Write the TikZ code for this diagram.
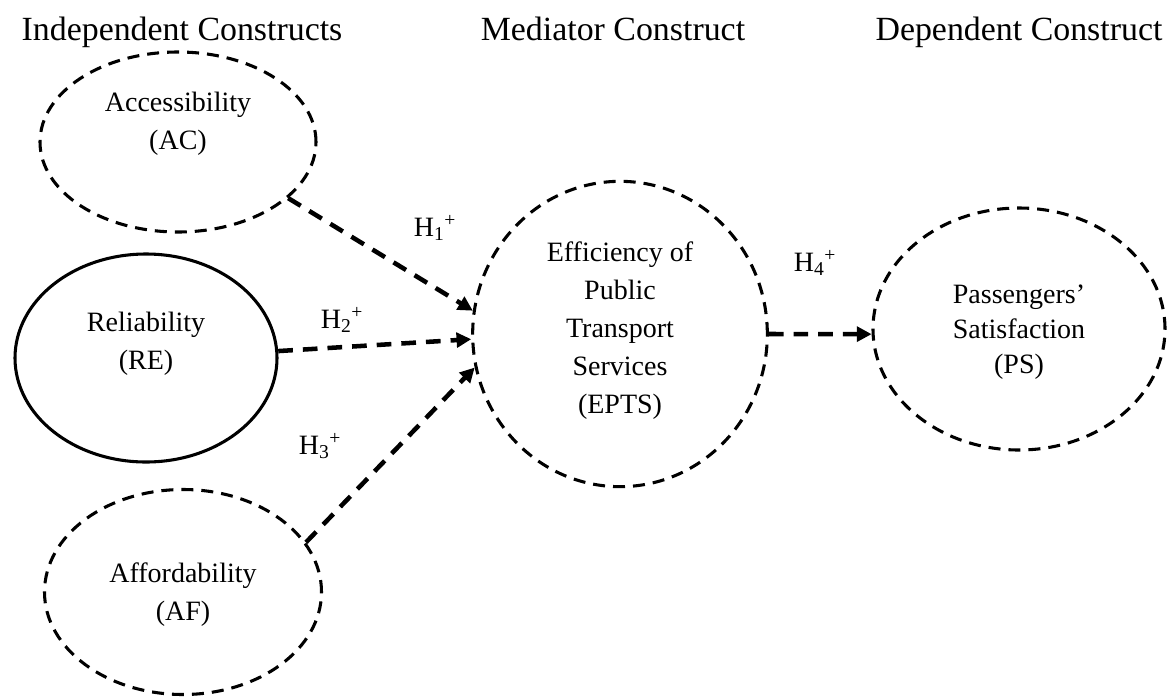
\documentclass[tikz,border=0pt]{standalone}
\usepackage{fontspec}
\setmainfont{Liberation Serif}
\usetikzlibrary{shapes.geometric,arrows.meta}
\begin{document}
\begin{tikzpicture}[x=0.75pt,y=-0.75pt,
  construct/.style = {shape=ellipse, draw, line width=2.3pt,
    dash pattern=on 9pt off 6pt},
  lbl/.style = {align=center, font=\fontsize{21}{28.5}\selectfont},
  heading/.style = {anchor=base, font=\fontsize{25.4}{30}\selectfont},
  hyp/.style = {font=\fontsize{21}{25}\selectfont},
  link/.style = {line width=3.4pt, dash pattern=on 11pt off 7.5pt,
    -{Triangle[length=11pt,width=11pt]}}]
  \useasboundingbox (0,0) rectangle (1172,697);

  % headings
  \node[heading] (h-ind) at (182,40) {Independent Constructs};
  \node[heading] (h-med) at (613,40) {Mediator Construct};
  \node[heading] (h-dep) at (1019,40) {Dependent Construct};

  % constructs
  \node[construct, minimum width=207pt, minimum height=135pt] (ac) at (178,142) {};
  \node[construct, solid, minimum width=196.5pt, minimum height=156pt] (re) at (146,358) {};
  \node[construct, minimum width=207.75pt, minimum height=153.75pt] (af) at (183,592) {};
  \node[construct, minimum width=221pt, minimum height=229pt] (epts) at (620,334) {};
  \node[construct, minimum width=219pt, minimum height=181.5pt] (ps) at (1019,329) {};

  \node[lbl] (ac-t) at (178,124) {Accessibility\\(AC)};
  \node[lbl] (re-t) at (146,344) {Reliability\\(RE)};
  \node[lbl] (af-t) at (183,595) {Affordability\\(AF)};
  \node[lbl] (epts-t) at (620,331) {Efficiency of\\Public\\Transport\\Services\\(EPTS)};
  \node[lbl, font=\fontsize{21}{26.5}\selectfont] (ps-t) at (1019,332) {Passengers’\\Satisfaction\\(PS)};

  % hypotheses
  \draw[link] (ac.-27) -- (epts.171.5);
  \draw[link] (re.3.4) -- (epts.182.4);
  \draw[link] (af.22.3) -- (epts.193);
  \draw[link] (epts.0) -- (ps.182);

  \node[hyp] (h1) at (435,228) {H\textsubscript{1}\textsuperscript{+}};
  \node[hyp] (h2) at (342,320) {H\textsubscript{2}\textsuperscript{+}};
  \node[hyp] (h3) at (320,446) {H\textsubscript{3}\textsuperscript{+}};
  \node[hyp] (h4) at (815,263) {H\textsubscript{4}\textsuperscript{+}};
\end{tikzpicture}
\end{document}
